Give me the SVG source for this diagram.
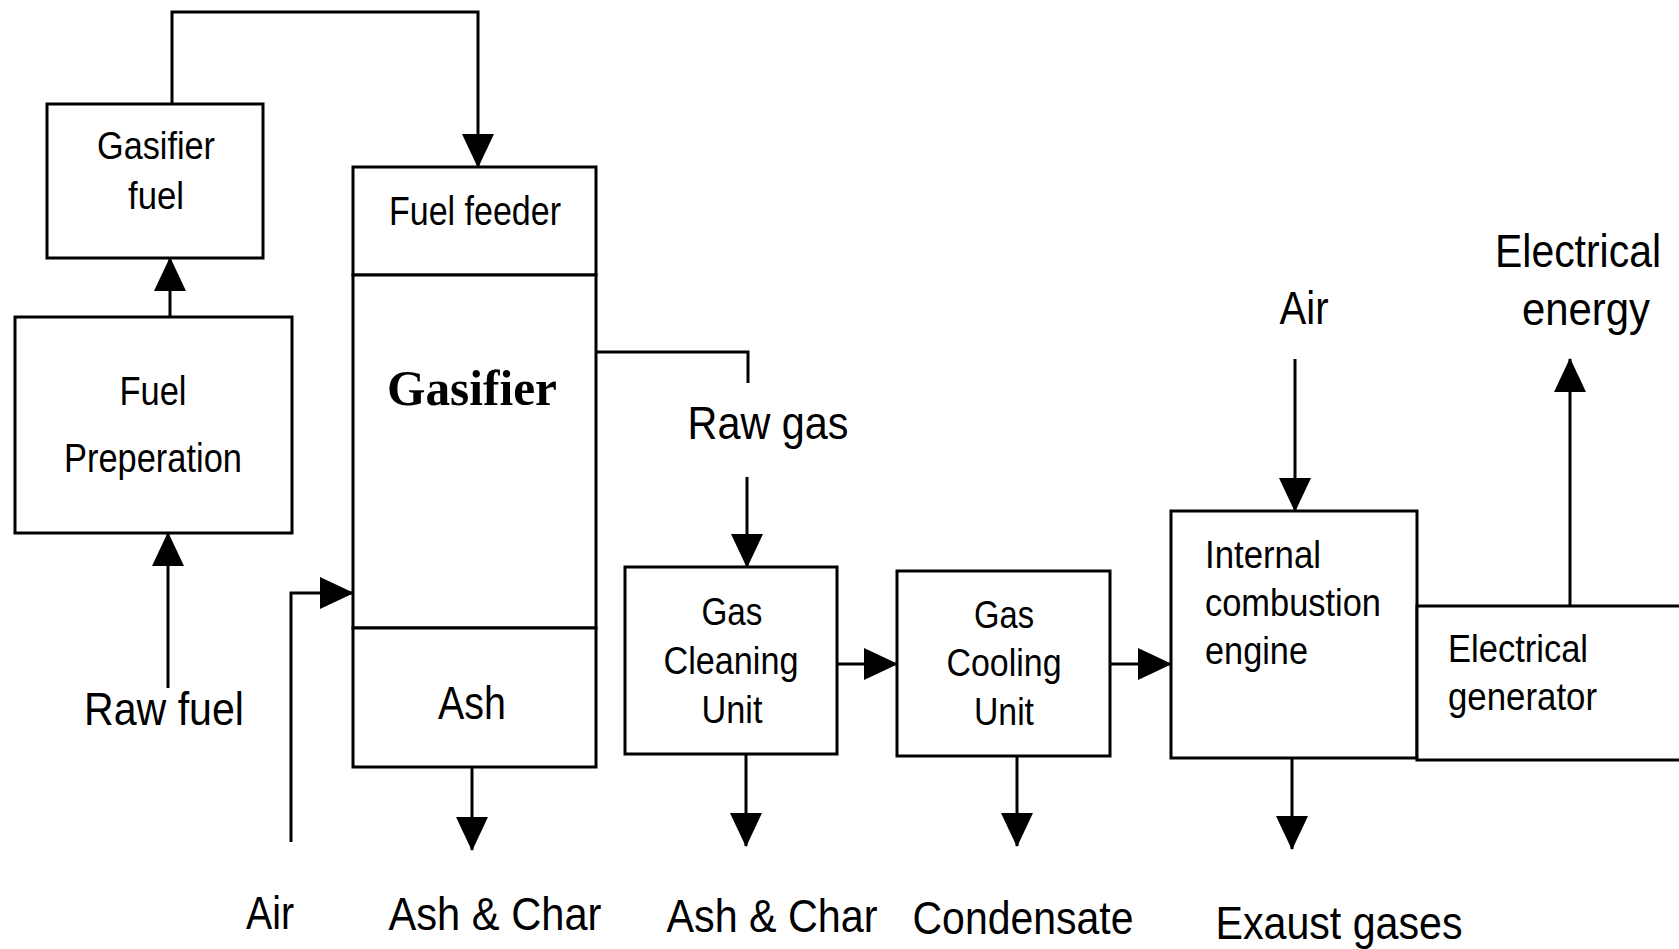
<svg xmlns="http://www.w3.org/2000/svg" width="1679" height="949" viewBox="0 0 1679 949">
<defs>
<marker id="ah" markerUnits="userSpaceOnUse" markerWidth="34" markerHeight="32" viewBox="0 0 34 32" refX="33" refY="16" orient="auto">
<path d="M0,0 L34,16 L0,32 z" fill="#000"/>
</marker>
</defs>
<style>
.box{fill:#fff;stroke:#000;stroke-width:3}
.ln{fill:none;stroke:#000;stroke-width:3}
.ar{fill:none;stroke:#000;stroke-width:3;marker-end:url(#ah)}
text{font-family:"Liberation Sans",Arial,sans-serif;fill:#000}
.s{font-size:38px}
.m{font-size:40px}
.l{font-size:46px}
.c{text-anchor:middle}
.g{font-family:"Liberation Serif","Times New Roman",serif;font-weight:bold;font-size:50px}
</style>
<rect width="1679" height="949" fill="#fff"/>
<g id="connectors">
<path class="ar" d="M168,688 V533"/>
<path class="ar" d="M170,317 V258"/>
<path class="ar" d="M172,104 V12 H478 V167"/>
<path class="ar" d="M291,842 V593 H353"/>
<path class="ar" d="M472,757 V850"/>
<path class="ln" d="M596,352 H748 V383"/>
<path class="ar" d="M747,477 V567"/>
<path class="ar" d="M837,664 H897"/>
<path class="ar" d="M1110,664 H1171"/>
<path class="ar" d="M1295,359 V511"/>
<path class="ar" d="M1570,606 V359"/>
<path class="ar" d="M746,754 V846"/>
<path class="ar" d="M1017,756 V846"/>
<path class="ar" d="M1292,758 V849"/>
</g>
<g id="gasifier-fuel">
<rect class="box" x="47" y="104" width="216" height="154"/>
<text class="s c" x="156" y="159" textLength="118" lengthAdjust="spacingAndGlyphs">Gasifier</text>
<text class="s c" x="156" y="209" textLength="56" lengthAdjust="spacingAndGlyphs">fuel</text>
</g>
<g id="fuel-preparation">
<rect class="box" x="15" y="317" width="277" height="216"/>
<text class="m c" x="153" y="405" textLength="67" lengthAdjust="spacingAndGlyphs">Fuel</text>
<text class="m c" x="153" y="472" textLength="178" lengthAdjust="spacingAndGlyphs">Preperation</text>
</g>
<g id="fuel-feeder">
<rect class="box" x="353" y="167" width="243" height="108"/>
<text class="m c" x="475" y="225" textLength="172" lengthAdjust="spacingAndGlyphs">Fuel feeder</text>
</g>
<g id="gasifier">
<rect class="box" x="353" y="275" width="243" height="353"/>
<text class="g c" x="472" y="405" textLength="170" lengthAdjust="spacingAndGlyphs">Gasifier</text>
</g>
<g id="ash">
<rect class="box" x="353" y="628" width="243" height="139"/>
<text class="l c" x="472" y="719" textLength="68" lengthAdjust="spacingAndGlyphs">Ash</text>
</g>
<g id="gas-cleaning">
<rect class="box" x="625" y="567" width="212" height="187"/>
<text class="s c" x="732" y="625" textLength="61" lengthAdjust="spacingAndGlyphs">Gas</text>
<text class="s c" x="731" y="674" textLength="135" lengthAdjust="spacingAndGlyphs">Cleaning</text>
<text class="s c" x="732" y="723" textLength="61" lengthAdjust="spacingAndGlyphs">Unit</text>
</g>
<g id="gas-cooling">
<rect class="box" x="897" y="571" width="213" height="185"/>
<text class="s c" x="1004" y="628" textLength="60" lengthAdjust="spacingAndGlyphs">Gas</text>
<text class="s c" x="1004" y="676" textLength="115" lengthAdjust="spacingAndGlyphs">Cooling</text>
<text class="s c" x="1004" y="725" textLength="60" lengthAdjust="spacingAndGlyphs">Unit</text>
</g>
<g id="engine">
<rect class="box" x="1171" y="511" width="246" height="247"/>
<text class="s" x="1205" y="568" textLength="116" lengthAdjust="spacingAndGlyphs">Internal</text>
<text class="s" x="1205" y="616" textLength="176" lengthAdjust="spacingAndGlyphs">combustion</text>
<text class="s" x="1205" y="664" textLength="103" lengthAdjust="spacingAndGlyphs">engine</text>
</g>
<g id="generator">
<rect class="box" x="1417" y="606" width="290" height="154"/>
<text class="s" x="1448" y="662" textLength="140" lengthAdjust="spacingAndGlyphs">Electrical</text>
<text class="s" x="1448" y="710" textLength="149" lengthAdjust="spacingAndGlyphs">generator</text>
</g>
<g id="labels">
<text class="l c" x="164" y="725" textLength="160" lengthAdjust="spacingAndGlyphs">Raw fuel</text>
<text class="l c" x="270" y="929" textLength="48" lengthAdjust="spacingAndGlyphs">Air</text>
<text class="l c" x="495" y="930" textLength="213" lengthAdjust="spacingAndGlyphs">Ash &amp; Char</text>
<text class="l c" x="768" y="439" textLength="161" lengthAdjust="spacingAndGlyphs">Raw gas</text>
<text class="l c" x="772" y="932" textLength="211" lengthAdjust="spacingAndGlyphs">Ash &amp; Char</text>
<text class="l c" x="1023" y="934" textLength="221" lengthAdjust="spacingAndGlyphs">Condensate</text>
<text class="l c" x="1339" y="939" textLength="247" lengthAdjust="spacingAndGlyphs">Exaust gases</text>
<text class="l c" x="1304" y="324" textLength="49" lengthAdjust="spacingAndGlyphs">Air</text>
<text class="l c" x="1578" y="267" textLength="166" lengthAdjust="spacingAndGlyphs">Electrical</text>
<text class="l c" x="1586" y="325" textLength="128" lengthAdjust="spacingAndGlyphs">energy</text>
</g>
</svg>
